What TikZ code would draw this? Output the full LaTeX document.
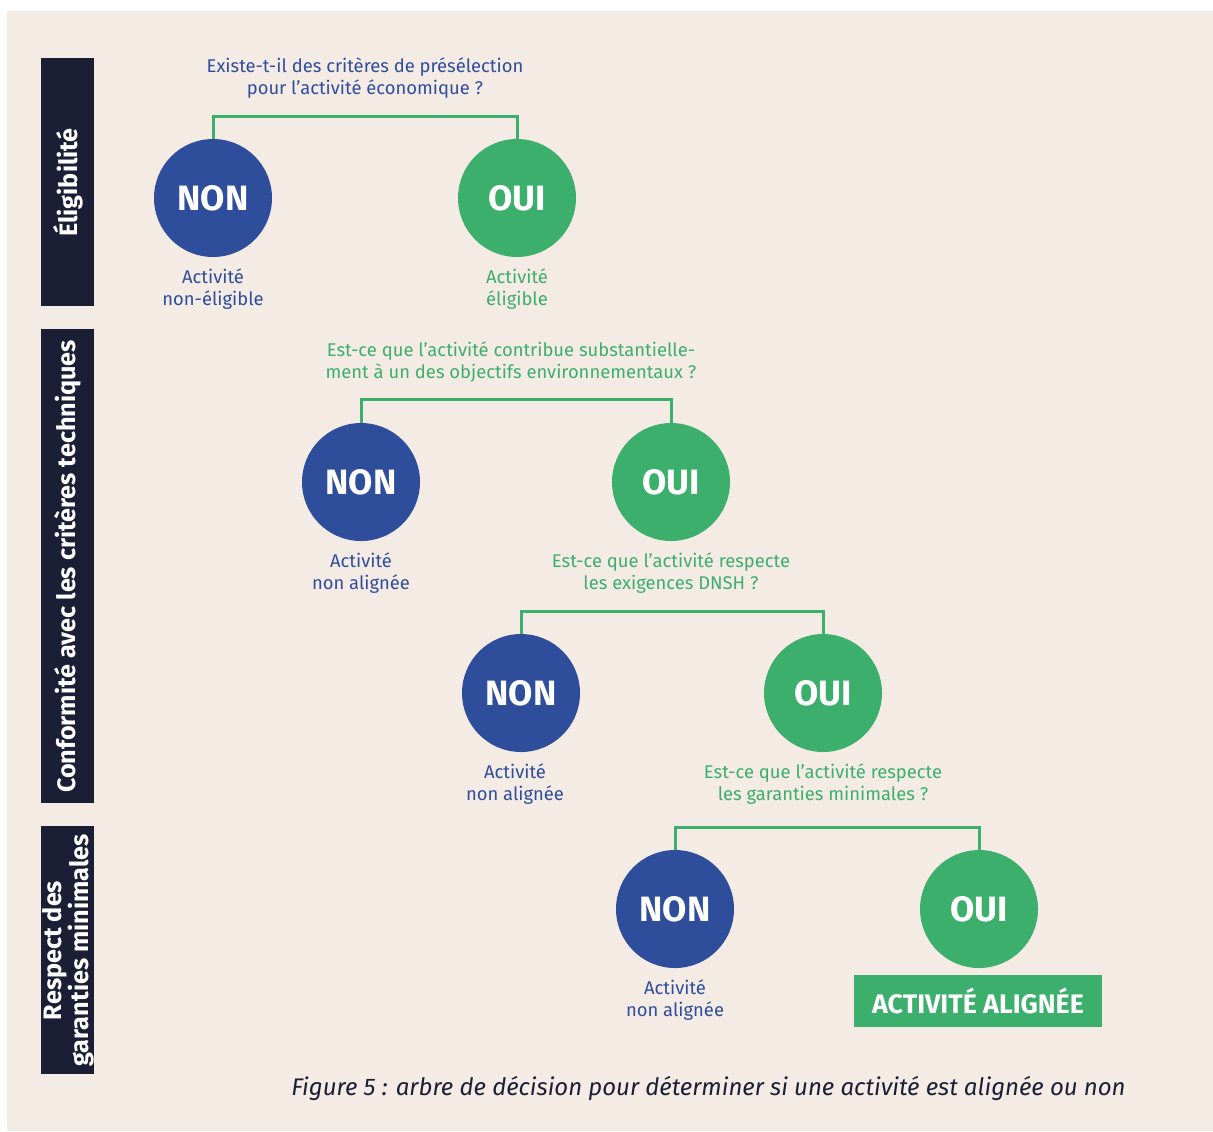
\documentclass[tikz,border=0pt]{standalone}
\usepackage{fontspec}
\setmainfont{Fira Sans}
\definecolor{bgc}{HTML}{F5EBE5}
\definecolor{navy}{HTML}{1B1F36}
\definecolor{blu}{HTML}{2E4E9C}
\definecolor{grn}{HTML}{3CAF6C}
\begin{document}
\begin{tikzpicture}[x=0.5pt,y=-0.5pt,
  conn/.style={draw=grn,line width=1.5pt},
  noncirc/.style={circle,fill=blu,text=white,minimum size=59pt,inner sep=0pt,font=\fontsize{17.6}{17.6}\selectfont\bfseries},
  ouicirc/.style={circle,fill=grn,text=white,minimum size=59pt,inner sep=0pt,font=\fontsize{17.6}{17.6}\selectfont\bfseries},
  qblue/.style={text=blu,align=center,font=\fontsize{9.2}{11}\selectfont,inner sep=0pt},
  qgreen/.style={text=grn,align=center,font=\fontsize{9.2}{11}\selectfont,inner sep=0pt},
  side/.style={fill=navy,minimum width=26.5pt,inner sep=0pt,anchor=north west},
  sidetxt/.style={text=white,rotate=90,align=center,font=\fontsize{12.6}{13.5}\selectfont\bfseries,inner sep=0pt}
]
\useasboundingbox (0,0) rectangle (1213,1131);
\fill[bgc] (7,11) rectangle (1213,1131);

% side bars
\node[side,minimum height=124pt] (s1) at (41,58) {};
\node[side,minimum height=237pt] (s2) at (41,329) {};
\node[side,minimum height=124pt] (s3) at (41,826) {};
\node[sidetxt] (t1) at (s1.center) {Éligibilité};
\node[sidetxt] (t2) at (s2.center) {Conformité avec les critères techniques};
\node[sidetxt] (t3) at (s3.center) {Respect des\\garanties minimales};

% level 1
\node[qblue] (q1) at (365,78) {Existe-t-il des critères de présélection\\pour l’activité économique ?};
\node[noncirc] (n1) at (213,198) {NON};
\node[ouicirc] (o1) at (517,198) {OUI};
\draw[conn] (n1.north) -- ++(0,-22) -| (o1.north);
\node[qblue] (l1) at (213,289) {Activité\\non-éligible};
\node[qgreen] (m1) at (517,289) {Activité\\éligible};

% level 2
\node[qgreen] (q2) at (511,362) {Est-ce que l’activité contribue substantielle-\\ment à un des objectifs environnementaux ?};
\node[noncirc] (n2) at (361,482) {NON};
\node[ouicirc] (o2) at (671,482) {OUI};
\draw[conn] (n2.north) -- ++(0,-23) -| (o2.north);
\node[qblue] (l2) at (361,573) {Activité\\non alignée};

% level 3
\node[qgreen] (q3) at (671,573) {Est-ce que l’activité respecte\\les exigences DNSH ?};
\node[noncirc] (n3) at (521,693) {NON};
\node[ouicirc] (o3) at (823,693) {OUI};
\draw[conn] (n3.north) -- ++(0,-22) -| (o3.north);
\node[qblue] (l3) at (515,784.5) {Activité\\non alignée};

% level 4
\node[qgreen] (q4) at (823,784.5) {Est-ce que l’activité respecte\\les garanties minimales ?};
\node[noncirc] (n4) at (675,909) {NON};
\node[ouicirc] (o4) at (979,909) {OUI};
\draw[conn] (n4.north) -- ++(0,-22) -| (o4.north);
\node[qblue] (l4) at (675,1000) {Activité\\non alignée};
\node[fill=grn,text=white,minimum width=124pt,minimum height=26pt,inner sep=0pt,font=\fontsize{13.4}{13.4}\selectfont\bfseries] (box) at (978,1001) {ACTIVITÉ ALIGNÉE};

% caption
\node[text=navy,font=\fontsize{12}{13}\selectfont\itshape,inner sep=0pt] (cap) at (708.5,1088) {Figure 5 : arbre de décision pour déterminer si une activité est alignée ou non};
\end{tikzpicture}
\end{document}
